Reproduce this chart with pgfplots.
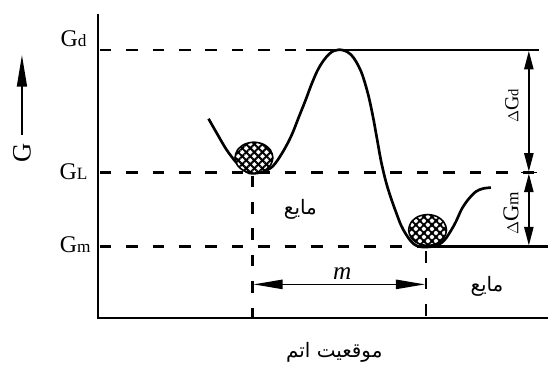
\documentclass[border=0pt]{standalone}
\usepackage{pgfplots}
\pgfplotsset{compat=1.18}
\usepackage{fontspec}
\setmainfont{Liberation Serif}
\newfontfamily\arabicfont[Script=Arabic]{DejaVu Sans}
\TeXXeTstate=1
\usetikzlibrary{arrows.meta,patterns.meta}

\begin{document}
\begin{tikzpicture}
\begin{axis}[
  scale only axis, width=14.5cm, height=9.693cm,
  xmin=0, xmax=549, ymin=0, ymax=367, y dir=reverse,
  axis lines=none, clip=false,
  dashline/.style={black, line width=1.7pt, dash pattern=on 8.7pt off 11.2pt},
  solidline/.style={black, line width=1.7pt},
]
% invisible frame to fix the picture's extent
\addplot[draw=none] coordinates {(0,0) (549,367)};
% axes
\addplot[solidline, line width=1.8pt] coordinates {(98,14) (98,319) (549,319)};
% horizontal levels
\addplot[dashline] coordinates {(100,50) (307,50)};
\addplot[solidline] coordinates {(307,50) (540,50)};
\addplot[dashline] coordinates {(100,173) (540,173)};
\addplot[dashline] coordinates {(100,247) (420,247)};
\addplot[solidline] coordinates {(420,247) (549,247)};
% vertical dashed
\addplot[dashline] coordinates {(253,176) (253,319)};
\addplot[dashline] coordinates {(427,252) (427,319)};
% energy curve
\addplot[black, line width=2pt, smooth, tension=0.55] coordinates {
(209,119) (217,133) (227,150) (237,163) (247,172) (253,173.7) (262,172.5)
(273,167) (283,153) (292,136) (300,116) (306,101) (312,85) (318,71) (324,61)
(330,54) (335,50.8) (340,49.8) (346,51) (352,55) (357,62) (362,72) (366,84)
(370,99) (374,118) (378,140) (382,162) (387,183) (392,199) (397,213)
(402,226) (407,235) (412,242) (417,246) (423,247.5) (432,247.2) (440,245)
(446,240) (452,231) (457,222) (463,209) (470,199) (477,192) (484,189) (492,188)};
% balls
\addplot[black, line width=1.2pt, fill=white, smooth cycle] coordinates {
(273.5,158) (270.95,165.75) (264,171.42) (254.5,173.5) (245,171.42) (238.05,165.75)
(235.5,158) (238.05,150.25) (245,144.58) (254.5,142.5) (264,144.58) (270.95,150.25)};
\addplot[draw=none, pattern={Lines[angle=45,distance=4.3pt,line width=1.5pt]}, pattern color=black, smooth cycle] coordinates {
(273.5,158) (270.95,165.75) (264,171.42) (254.5,173.5) (245,171.42) (238.05,165.75)
(235.5,158) (238.05,150.25) (245,144.58) (254.5,142.5) (264,144.58) (270.95,150.25)};
\addplot[draw=none, pattern={Lines[angle=-45,distance=4.3pt,line width=1.5pt]}, pattern color=black, smooth cycle] coordinates {
(273.5,158) (270.95,165.75) (264,171.42) (254.5,173.5) (245,171.42) (238.05,165.75)
(235.5,158) (238.05,150.25) (245,144.58) (254.5,142.5) (264,144.58) (270.95,150.25)};
\addplot[black, line width=1.2pt, fill=white, smooth cycle] coordinates {
(447.5,230.5) (444.95,238.25) (438,243.92) (428.5,246) (419,243.92) (412.05,238.25)
(409.5,230.5) (412.05,222.75) (419,217.08) (428.5,215) (438,217.08) (444.95,222.75)};
\addplot[draw=none, pattern={Lines[angle=45,distance=4.3pt,line width=1.5pt]}, pattern color=black, smooth cycle] coordinates {
(447.5,230.5) (444.95,238.25) (438,243.92) (428.5,246) (419,243.92) (412.05,238.25)
(409.5,230.5) (412.05,222.75) (419,217.08) (428.5,215) (438,217.08) (444.95,222.75)};
\addplot[draw=none, pattern={Lines[angle=-45,distance=4.3pt,line width=1.5pt]}, pattern color=black, smooth cycle] coordinates {
(447.5,230.5) (444.95,238.25) (438,243.92) (428.5,246) (419,243.92) (412.05,238.25)
(409.5,230.5) (412.05,222.75) (419,217.08) (428.5,215) (438,217.08) (444.95,222.75)};
% dimension arrows
\addplot[black, line width=1.2pt, {Triangle[length=14pt,width=7pt]}-{Triangle[length=14pt,width=7pt]}] coordinates {(530,51) (530,172)};
\addplot[black, line width=1.2pt, {Triangle[length=14pt,width=7pt]}-{Triangle[length=14pt,width=7pt]}] coordinates {(530,174) (530,246)};
\addplot[black, line width=1.2pt] coordinates {(522,173) (538,173)};
\addplot[black, line width=1.2pt, {Triangle[length=22pt,width=7pt]}-{Triangle[length=22pt,width=7pt]}] coordinates {(254,285) (426,285)};
\addplot[black, line width=1.4pt, -{Triangle[length=24pt,width=7.5pt]}] coordinates {(22,135) (22,55)};
% labels
\node[anchor=base east, font=\fontsize{18}{20}\selectfont, inner sep=0pt] at (axis cs:87,47) {G{\fontsize{13}{15}\selectfont d}};
\node[anchor=base east, font=\fontsize{18}{20}\selectfont, inner sep=0pt] at (axis cs:88,180) {G{\fontsize{13}{15}\selectfont L}};
\node[anchor=base east, font=\fontsize{18}{20}\selectfont, inner sep=0pt] at (axis cs:91,253) {G{\fontsize{13}{15}\selectfont m}};
\node[rotate=90, font=\fontsize{20}{22}\selectfont, inner sep=0pt] at (axis cs:22,153) {G};
\node[rotate=90, font=\fontsize{15}{17}\selectfont, inner sep=0pt] at (axis cs:513,106) {$\scriptstyle\Delta$G{\fontsize{11}{13}\selectfont d}};
\node[rotate=90, font=\fontsize{17}{19}\selectfont, inner sep=0pt] at (axis cs:512,214) {$\scriptstyle\Delta$G{\fontsize{13}{15}\selectfont m}};
\node[anchor=base, font=\fontsize{19}{20}\selectfont\itshape, inner sep=0pt] at (axis cs:343,280) {m};
\node[font=\fontsize{15}{18}\selectfont\arabicfont, inner sep=0pt] at (axis cs:301,210) {\beginR مایع\endR};
\node[font=\fontsize{15}{18}\selectfont\arabicfont, inner sep=0pt] at (axis cs:488,287) {\beginR مایع\endR};
\node[font=\fontsize{15}{18}\selectfont\arabicfont, inner sep=0pt] at (axis cs:335,353) {\beginR موقعیت اتم\endR};
\end{axis}
\end{tikzpicture}
\end{document}
